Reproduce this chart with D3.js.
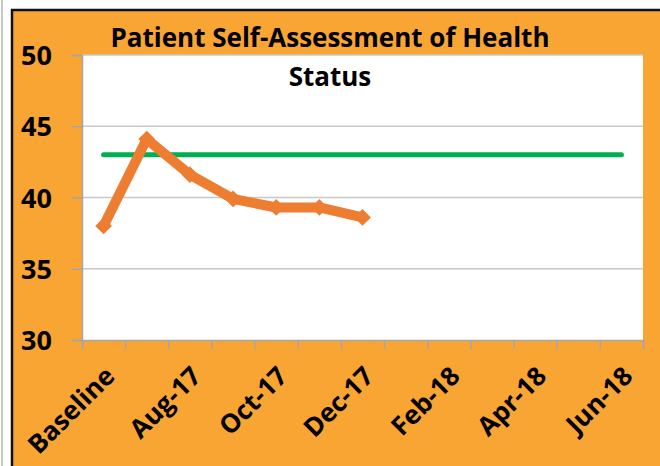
<!DOCTYPE html>
<html>
<head>
<meta charset="utf-8">
<script src="https://cdn.jsdelivr.net/npm/d3@7"></script>
<style>
  body { margin: 0; background: #fff; }
  text { font-family: "Open Sans", Lato, sans-serif; font-weight: bold; fill: #000; }
</style>
</head>
<body>
<div id="chart"></div>
<script>

// categories on the x axis (only every other one gets a label)
const categories = ['Baseline', 'Jul-17', 'Aug-17', 'Sep-17', 'Oct-17', 'Nov-17', 'Dec-17',
    'Jan-18', 'Feb-18', 'Mar-18', 'Apr-18', 'May-18', 'Jun-18']
const shownLabels = ['Baseline', 'Aug-17', 'Oct-17', 'Dec-17', 'Feb-18', 'Apr-18', 'Jun-18']

// patient scores (orange) and the target (green)
const scores = [38.0, 44.1, 41.6, 39.9, 39.3, 39.3, 38.6]
const target = [43, 43, 43, 43, 43, 43, 43, 43, 43, 43, 43, 43, 43]

const yTicks = [30, 35, 40, 45, 50]
const titleLines = ['Patient Self-Assessment of Health', 'Status']

const svgWidth = 660
const svgHeight = 466

// plot area
const plot = { left: 82, right: 643, top: 55, bottom: 340 }

const svg = d3.select('#chart')
    .append('svg')
    .attr('width', svgWidth)
    .attr('height', svgHeight)

// outer frame: orange chart area with black edge on top/left
svg.append('line')
    .attr('x1', 2).attr('x2', 2).attr('y1', 0).attr('y2', svgHeight)
    .attr('stroke', '#b5b5b5').attr('stroke-width', 1.5)

svg.append('rect')
    .attr('x', 12).attr('y', 10)
    .attr('width', svgWidth).attr('height', svgHeight)
    .attr('fill', '#f9a534')
    .attr('stroke', '#111')
    .attr('stroke-width', 2.5)

svg.append('rect')
    .attr('x', plot.left).attr('y', plot.top)
    .attr('width', plot.right - plot.left).attr('height', plot.bottom - plot.top)
    .attr('fill', '#fff')

////////////////////////////////////
//////////////scales////////////////
////////////////////////////////////

const x = d3.scaleBand()
    .domain(categories)
    .range([plot.left, plot.right])
    .padding(0)

// category boundaries, for the tick marks
const xEdge = d3.scaleLinear()
    .domain([0, categories.length])
    .range([plot.left, plot.right])

const y = d3.scaleLinear()
    .domain([30, 50])
    .range([plot.bottom, plot.top])

const cx = d => x(d) + x.bandwidth() / 2

// gridlines
svg.append('g')
    .selectAll('line')
    .data(yTicks.filter(d => d > 30))
    .join('line')
    .attr('x1', plot.left).attr('x2', plot.right)
    .attr('y1', d => y(d)).attr('y2', d => y(d))
    .attr('stroke', '#c8c8c8')
    .attr('stroke-width', 1.5)

// Y axis
const yAxis = svg.append('g')
    .attr('transform', `translate(${plot.left},0)`)
    .call(d3.axisLeft(y).tickValues(yTicks).tickSize(10).tickPadding(20))

yAxis.select('.domain').attr('stroke', '#a6a6a6').attr('stroke-width', 1.5)
yAxis.selectAll('.tick line').attr('stroke', '#a6a6a6').attr('stroke-width', 1.5)
yAxis.selectAll('.tick text')
    .style('font-size', '27px')
    .attr('dy', '0.36em')

// X axis (tick marks on category edges)
const xAxis = svg.append('g')
    .attr('transform', `translate(0,${plot.bottom})`)
    .call(d3.axisBottom(xEdge).tickValues(d3.range(categories.length + 1)).tickSize(9).tickFormat(''))

xAxis.select('.domain').attr('stroke', '#a6a6a6').attr('stroke-width', 1.5)
xAxis.selectAll('.tick line').attr('stroke', '#a6a6a6').attr('stroke-width', 1.5)

// rotated category labels
svg.append('g')
    .selectAll('text')
    .data(shownLabels)
    .join('text')
    .attr('transform', d => `translate(${cx(d) - 1},364) rotate(-45)`)
    .attr('text-anchor', 'end')
    .attr('dy', '0.75em')
    .style('font-size', '26px')
    .text(d => d)

////////////////////////////////////
////////// lines & markers /////////
////////////////////////////////////

const line = d3.line()
    .x(d => cx(d.cat))
    .y(d => y(d.value))

const targetData = target.map((v, i) => ({ cat: categories[i], value: v }))
const scoreData = scores.map((v, i) => ({ cat: categories[i], value: v }))

svg.append('path')
    .attr('d', line(targetData))
    .attr('fill', 'none')
    .attr('stroke', '#00b050')
    .attr('stroke-width', 5)
    .attr('stroke-linecap', 'round')

svg.append('path')
    .attr('d', line(scoreData))
    .attr('fill', 'none')
    .attr('stroke', '#ed7d31')
    .attr('stroke-width', 10)
    .attr('stroke-linejoin', 'round')

svg.append('g')
    .selectAll('path')
    .data(scoreData)
    .join('path')
    .attr('d', d3.symbol(d3.symbolSquare, 140))
    .attr('transform', d => `translate(${cx(d.cat)},${y(d.value)}) rotate(45)`)
    .attr('fill', '#ed7d31')

// title
svg.append('g')
    .selectAll('text')
    .data(titleLines)
    .join('text')
    .attr('x', 330)
    .attr('y', (d, i) => 47 + i * 39)
    .attr('text-anchor', 'middle')
    .style('font-size', '26px')
    .text(d => d)

</script>
</body>
</html>
